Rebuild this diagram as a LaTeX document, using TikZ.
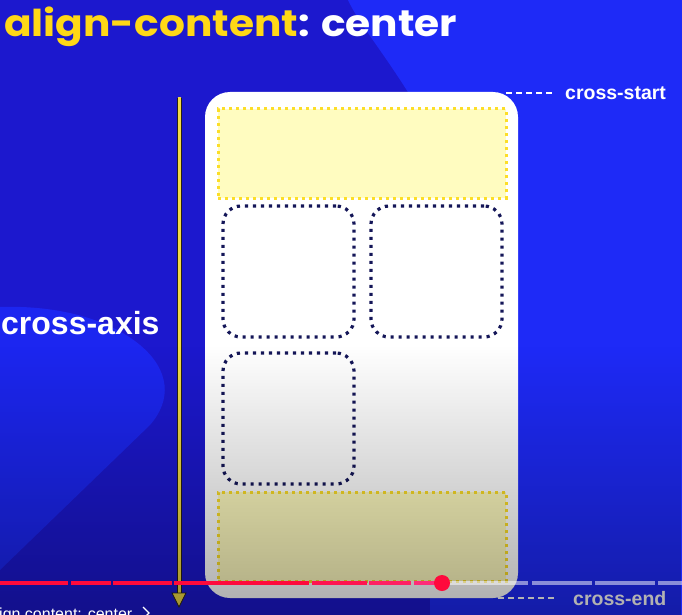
\documentclass[tikz,border=0pt]{standalone}
\usepackage{fontspec}
\setmainfont{Liberation Sans}
\newfontfamily\poppins{Poppins}
\usetikzlibrary{fadings}
\definecolor{bgdark}{RGB}{28,24,206}
\definecolor{bgbright}{RGB}{30,42,247}
\definecolor{bgblob}{RGB}{28,38,240}
\definecolor{titleyellow}{RGB}{255,216,22}
\definecolor{boxyellow}{RGB}{255,252,192}
\definecolor{dotyellow}{RGB}{252,222,40}
\definecolor{navy}{RGB}{20,22,88}
\definecolor{axisyellow}{RGB}{242,218,72}
\definecolor{axisdark}{RGB}{40,34,20}
\definecolor{ytred}{RGB}{255,10,60}
\definecolor{ytred2}{RGB}{255,20,80}
\definecolor{ytred3}{RGB}{255,32,100}
\definecolor{ytred4}{RGB}{255,44,120}
\tikzfading[name=fadedown, top color=transparent!100, bottom color=transparent!0]
\tikzset{
  itembox/.style={draw=navy, line width=3.2pt, dash pattern=on 3.2pt off 4.8pt,
    rounded corners=18pt, minimum width=131pt, minimum height=131pt, inner sep=0pt, outer sep=0pt},
  linebox/.style={fill=boxyellow, draw=dotyellow, line width=3pt, dash pattern=on 3pt off 4pt,
    minimum width=288pt, minimum height=89pt, inner sep=0pt, outer sep=0pt},
  edgelabel/.style={text=white, font=\bfseries\fontsize{19.5}{22}\selectfont, inner sep=0pt, anchor=base west},
  guide/.style={white, line width=2pt, dash pattern=on 6pt off 4pt},
  played/.style={line width=4pt},
  unplayed/.style={white, opacity=0.5, line width=4pt}
}
\begin{document}
\begin{tikzpicture}[x=1pt,y=-1pt]
\useasboundingbox (0,0) rectangle (682,615);
\clip (0,0) rectangle (682,615);
% background
\fill[bgdark] (0,0) rectangle (682,615);
\fill[bgbright] (348,0) .. controls (362,30) and (395,65) .. (430,130) -- (430,615) -- (682,615) -- (682,0) -- cycle;
\fill[bgblob] (0,307) .. controls (60,305) and (110,320) .. (140,345)
  .. controls (170,370) and (172,400) .. (150,425) -- (0,570) -- cycle;
% title
\node[anchor=base west, inner sep=0pt, xscale=1.1, font=\poppins\bfseries\fontsize{37}{42}\selectfont] (title) at (4,37)
  {\textcolor{titleyellow}{align-content}\textcolor{white}{: center}};
% card
\node[fill=white, rounded corners=25pt, minimum width=313pt, minimum height=506pt, inner sep=0pt] (card) at (361.5,345) {};
\node[linebox] (line1) at (362,153.5) {};
\node[linebox] (line2) at (362,536.5) {};
\node[itembox] (itemA) at (288.5,271.5) {};
\node[itembox] (itemB) at (436.5,271.5) {};
\node[itembox] (itemC) at (288.5,418.5) {};
% cross axis arrow
\coordinate (axtop) at (179,98);
\coordinate (axhead) at (179,593);
\coordinate (axtip) at (179,607);
\draw[axisdark, line width=5pt] (axtop) -- (axhead);
\draw[axisyellow, line width=3pt] ([yshift=1pt]axtop) -- (axhead);
\filldraw[fill=axisyellow, draw=axisdark, line width=0.8pt] ([xshift=-7pt]axhead) -- ([xshift=7pt]axhead) -- (axtip) -- cycle;
\node[text=white, font=\bfseries\fontsize{32}{36}\selectfont, inner sep=0pt, anchor=base west] (axislabel) at (1,334) {cross-axis};
% cross-start / cross-end
\node[edgelabel] (cstart) at (565,100) {cross-start};
\node[edgelabel] (cend) at (573,605) {cross-end};
\coordinate (gs) at (506,93);
\coordinate (ge) at (498,598);
\draw[guide] (gs) -- ([xshift=-10pt]cstart.west |- gs);
\draw[guide] (ge) -- ([xshift=-18pt]cend.west |- ge);
% bottom overlay
\fill[black, fill opacity=0.32, path fading=fadedown] (0,345) rectangle (682,615);
% progress bar
\draw[ytred, played] (0,582.5) -- (68,582.5);
\draw[ytred, played] (71,582.5) -- (111,582.5);
\draw[ytred, played] (113,582.5) -- (172,582.5);
\draw[ytred, played] (174,582.5) -- (309,582.5);
\draw[ytred2, played] (312,582.5) -- (367,582.5);
\draw[ytred3, played] (369,582.5) -- (411,582.5);
\draw[ytred4, played] (414,582.5) -- (442,582.5);
\draw[unplayed] (446,582.5) -- (528,582.5);
\draw[unplayed] (532,582.5) -- (592,582.5);
\draw[unplayed] (595,582.5) -- (655,582.5);
\draw[unplayed] (658,582.5) -- (682,582.5);
\fill[ytred] (442,583) circle (8pt);
% chapter title
\node[text=white, font=\fontsize{16}{18}\selectfont, inner sep=0pt, anchor=base west] (chapter) at (-1,619) {ign content: center};
\draw[white, line width=1.3pt] (143,607) -- (149,613) -- (143,619);
\end{tikzpicture}
\end{document}
